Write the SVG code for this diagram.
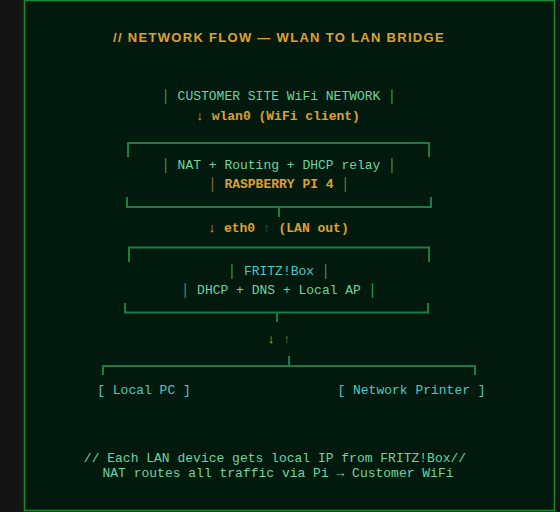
<svg xmlns="http://www.w3.org/2000/svg" width="560" height="512" viewBox="0 0 560 512">
<style>
  .mono { font-family: "Liberation Mono", "DejaVu Sans Mono", monospace; font-size: 13px; text-anchor: middle; }
  .mint { fill: #6fd3a0; }
  .bar { fill: #3fae6e; }
  .orange { fill: #e0a030; font-weight: bold; }
  .obar { fill: #a8782a; }
  .cyan { fill: #4fc8c4; }
  .tbar { fill: #3aa8a0; }
  .dim { fill: #4a5a5a; }
  .br { fill: none; stroke: #1c7c46; stroke-width: 2; }
</style>
<rect x="0" y="0" width="560" height="512" fill="#141414"/>
<rect x="24.5" y="0.5" width="530" height="510" fill="#021a0e" stroke="#178a3a" stroke-width="1.5"/>

<text x="279" y="42" font-family="Liberation Sans, Arial, sans-serif" font-size="13" font-weight="bold" fill="#e0a030" text-anchor="middle" letter-spacing="1.3">// NETWORK FLOW — WLAN TO LAN BRIDGE</text>

<g id="customer-wifi">
  <text class="mono" x="279" y="100"><tspan class="bar">│</tspan><tspan class="mint"> CUSTOMER SITE WiFi NETWORK </tspan><tspan class="bar">│</tspan></text>
  <text class="mono" x="278" y="120"><tspan class="orange">↓ wlan0 (WiFi client)</tspan></text>
</g>

<g id="raspberry-pi">
  <text class="mono" x="279" y="169"><tspan class="bar">│</tspan><tspan class="mint"> NAT + Routing + DHCP relay </tspan><tspan class="bar">│</tspan></text>
  <text class="mono" x="279" y="188"><tspan class="obar">│</tspan><tspan class="orange"> RASPBERRY PI 4 </tspan><tspan class="obar">│</tspan></text>
</g>

<g id="eth0-label">
  <text class="mono" x="278.5" y="232"><tspan class="orange">↓ eth0 </tspan><tspan class="dim">↑</tspan><tspan class="orange"> (LAN out)</tspan></text>
</g>

<g id="fritzbox">
  <text class="mono" x="279" y="275"><tspan class="tbar">│</tspan><tspan class="cyan"> FRITZ!Box </tspan><tspan class="tbar">│</tspan></text>
  <text class="mono" x="279" y="294"><tspan class="bar">│</tspan><tspan class="mint"> DHCP + DNS + Local AP </tspan><tspan class="bar">│</tspan></text>
</g>

<g id="lan-arrows">
  <text class="mono" x="279" y="343" font-size="11"><tspan class="orange">↓</tspan><tspan fill="#8a6a30"> ↑</tspan></text>
</g>

<g id="local-pc">
  <text class="mono cyan" x="144" y="394">[ Local PC ]</text>
</g>
<g id="network-printer">
  <text class="mono cyan" x="411.5" y="394">[ Network Printer ]</text>
</g>

<g id="connectors">
  <path class="br" d="M128,157 V143 H429 V157"/>
  <path class="br" d="M127,197 V207 H431 V197"/>
  <path class="br" d="M279,207 V217"/>
  <path class="br" d="M129,262 V247.5 H429 V262"/>
  <path class="br" d="M125,303 V312.5 H428 V303"/>
  <path class="br" d="M277,312 V322"/>
  <path class="br" d="M103,375 V366 H475 V375"/>
  <path class="br" d="M289,356 V366"/>
</g>

<g id="footer">
  <text class="mono mint" x="275" y="462">// Each LAN device gets local IP from FRITZ!Box//</text>
  <text class="mono mint" x="278" y="477">NAT routes all traffic via Pi → Customer WiFi</text>
</g>
</svg>
